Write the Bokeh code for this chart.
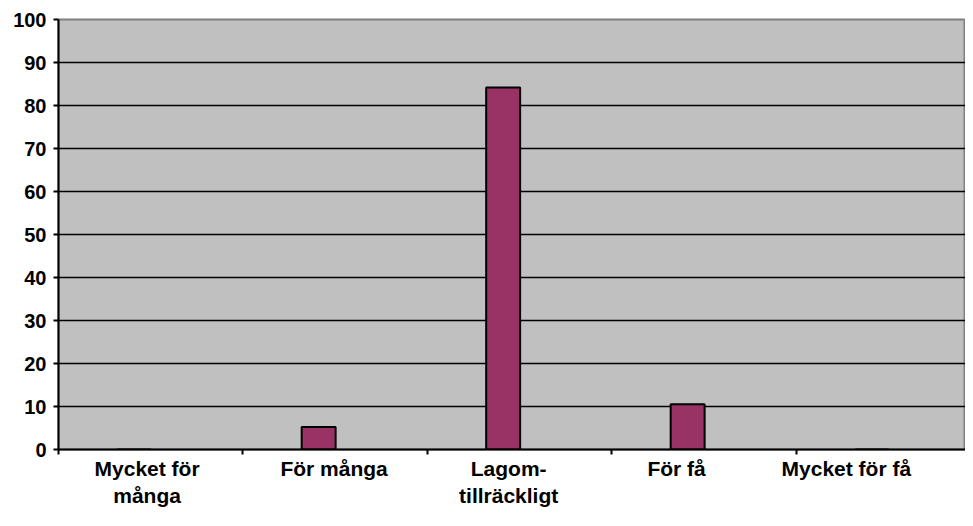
from bokeh.plotting import figure
from bokeh.models import ColumnDataSource, FixedTicker, Range1d
from bokeh.embed import file_html
from bokeh.resources import INLINE

# ---- data ----
categories = ["Mycket för\nmånga", "För många", "Lagom-\ntillräckligt", "För få", "Mycket för få"]
values = [0.0, 5.26, 84.21, 10.53, 0.0]
y_ticks = [0, 10, 20, 30, 40, 50, 60, 70, 80, 90, 100]

# ---- layout (category units) ----
bar_offset = -0.09          # bars sit left of category centre (second empty series)
bar_width = 0.184
label_shift = [-0.02, -0.006, -0.06, -0.15, -0.23]   # label centre shifts as in the picture

idx = list(range(len(categories)))
xs = [i + 0.5 + bar_offset for i in idx]
src = ColumnDataSource(dict(x=xs, top=values))

p = figure(width=965, height=510, output_backend="svg", toolbar_location=None,
           x_range=Range1d(0, 4.916), y_range=Range1d(0, 100),
           min_border_left=58, min_border_right=0, min_border_top=19, min_border_bottom=59)

p.background_fill_color = "#C0C0C0"
p.border_fill_color = "white"
p.outline_line_color = "#808080"
p.outline_line_width = 2

p.vbar(x="x", top="top", bottom=0, width=bar_width, source=src,
       fill_color="#993366", line_color="black", line_width=2)

# y axis
p.yaxis.ticker = FixedTicker(ticks=y_ticks)
p.yaxis.axis_line_color = "black"
p.yaxis.axis_line_width = 2
p.yaxis.major_tick_out = 5
p.yaxis.major_tick_in = 0
p.yaxis.major_tick_line_width = 2
p.yaxis.minor_tick_line_color = None
p.yaxis.major_label_text_font = "Liberation Sans"
p.yaxis.major_label_text_font_style = "bold"
p.yaxis.major_label_text_font_size = "20px"
p.yaxis.major_label_text_color = "black"
p.yaxis.major_label_standoff = 7

# x axis
label_pos = [i + 0.5 + s for i, s in zip(idx, label_shift)]
p.xaxis.ticker = FixedTicker(ticks=label_pos, minor_ticks=[float(i) for i in range(len(categories) + 1)])
p.xaxis.major_label_overrides = {lp: c for lp, c in zip(label_pos, categories)}
p.xaxis.axis_line_color = "black"
p.xaxis.axis_line_width = 2
p.xaxis.major_tick_line_color = None
p.xaxis.major_tick_out = 0
p.xaxis.major_tick_in = 0
p.xaxis.minor_tick_out = 5
p.xaxis.minor_tick_in = 0
p.xaxis.minor_tick_line_color = "black"
p.xaxis.minor_tick_line_width = 2
p.xaxis.major_label_text_font = "Liberation Sans"
p.xaxis.major_label_text_font_style = "bold"
p.xaxis.major_label_text_font_size = "21px"
p.xaxis.major_label_text_color = "black"
p.xaxis.major_label_standoff = 2

# grid
p.xgrid.grid_line_color = None
p.ygrid.ticker = FixedTicker(ticks=y_ticks[1:-1])
p.ygrid.grid_line_color = "black"
p.ygrid.grid_line_width = 1.5

open("out.html", "w").write(file_html(p, INLINE))
